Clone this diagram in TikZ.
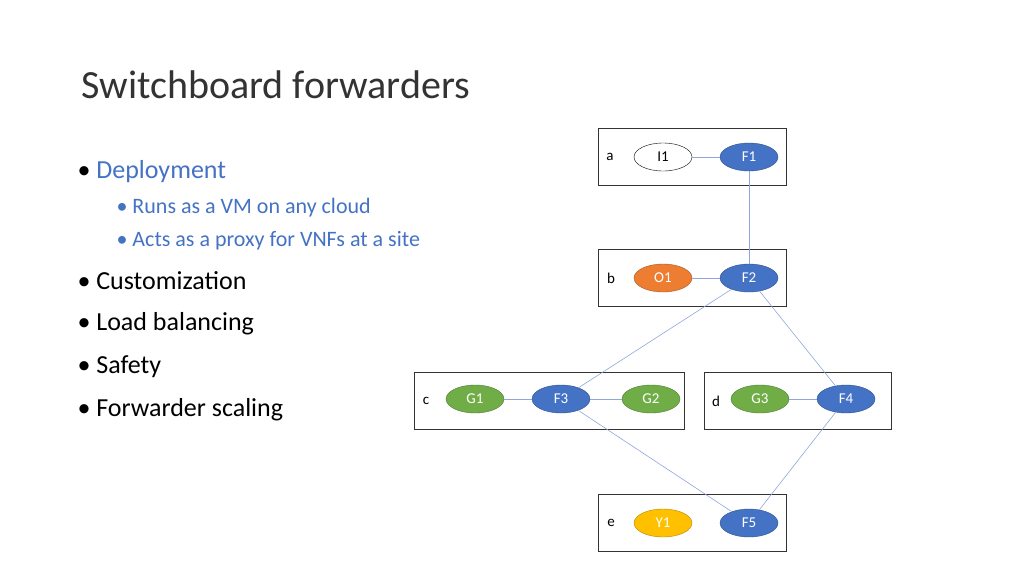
\documentclass[tikz,border=0pt]{standalone}
\usepackage{fontspec}
\setmainfont{Carlito}
\usetikzlibrary{shapes.geometric}
\begin{document}
\begin{tikzpicture}[x=1pt,y=-1pt,
 box/.style={draw=black!80,line width=0.8pt},
 nd/.style={ellipse,draw=#1!70!black,fill=#1,minimum width=58pt,minimum height=28pt,inner sep=0pt,text=white,font=\fontsize{15}{15}\selectfont},
 lk/.style={draw=cyan!40!blue!45,line width=0.6pt},
 lbl/.style={font=\fontsize{15}{15}\selectfont},
 bul/.style={anchor=west,font=\fontsize{26}{26}\selectfont},
 sub/.style={anchor=west,font=\fontsize{22}{22}\selectfont,text=blu}]
\definecolor{blu}{HTML}{4472C4}\definecolor{org}{HTML}{ED7D31}
\definecolor{grn}{HTML}{70AD47}\definecolor{yel}{HTML}{FFC000}
\useasboundingbox (0,0) rectangle (1024,576);
\node[anchor=west,font=\fontsize{40}{40}\selectfont,text=black!80] (t) at (78,85) {Switchboard forwarders};
\node[bul] (b1) at (74,172) {\textbullet\ \textcolor{blu}{Deployment}};
\node[sub] (s1) at (113,208) {\textbullet\ Runs as a VM on any cloud};
\node[sub] (s2) at (113,241) {\textbullet\ Acts as a proxy for VNFs at a site};
\node[bul] (b2) at (74,281) {\textbullet\ Customization};
\node[bul] (b3) at (74,324) {\textbullet\ Load balancing};
\node[bul] (b4) at (74,367) {\textbullet\ Safety};
\node[bul] (b5) at (74,410) {\textbullet\ Forwarder scaling};
\draw[box] (598,128) rectangle (786,185);
\draw[box] (598,249) rectangle (786,306);
\draw[box] (414,372) rectangle (684,429);
\draw[box] (704,372) rectangle (891,429);
\draw[box] (598,494) rectangle (786,551);
\node[lbl] (la) at (610,157) {a};
\node[lbl] (lb) at (611,278) {b};
\node[lbl] (lc) at (426,401) {c};
\node[lbl] (ld) at (716,401) {d};
\node[lbl] (le) at (611,523) {e};
\node[nd=white,text=black,draw=black] (I1) at (663,157) {I1};
\node[nd=blu] (F1) at (749,157) {F1};
\node[nd=org] (O1) at (663,278) {O1};
\node[nd=blu] (F2) at (749,278) {F2};
\node[nd=grn] (G1) at (475,399) {G1};
\node[nd=blu] (F3) at (561,399) {F3};
\node[nd=grn] (G2) at (651,399) {G2};
\node[nd=grn] (G3) at (760,399) {G3};
\node[nd=blu] (F4) at (846,399) {F4};
\node[nd=yel] (Y1) at (663,523) {Y1};
\node[nd=blu] (F5) at (749,523) {F5};
\draw[lk] (I1)--(F1); \draw[lk] (F1)--(F2); \draw[lk] (O1)--(F2);
\draw[lk] (F2)--(F3); \draw[lk] (F2)--(F4); \draw[lk] (G1)--(F3);
\draw[lk] (F3)--(G2); \draw[lk] (G3)--(F4); \draw[lk] (F3)--(F5);
\draw[lk] (F4)--(F5);
\end{tikzpicture}
\end{document}
